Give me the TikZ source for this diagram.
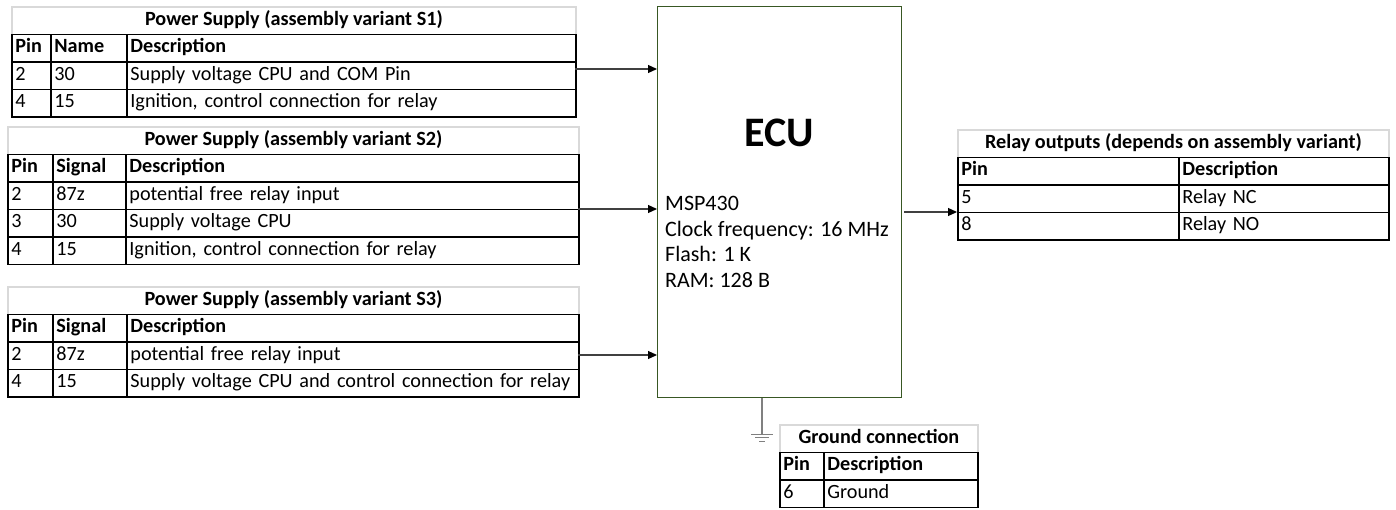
\documentclass[tikz,border=0pt]{standalone}
\usepackage{fontspec}
\setmainfont{Carlito}
\usetikzlibrary{arrows.meta}

\definecolor{ecugreen}{RGB}{56,87,35}
\definecolor{titlegray}{RGB}{217,217,217}
\definecolor{wiregray}{RGB}{64,64,64}
\definecolor{gndgray}{RGB}{128,128,128}

\begin{document}
\begin{tikzpicture}[x=1pt,y=1pt,yscale=-1,
  cell/.style={draw=black, line width=1.8pt, anchor=north west, minimum height=27.5pt, inner xsep=3.5pt, inner ysep=0pt, text height=13.5pt, text depth=4pt, align=left, font=\fontsize{20.2}{23}\selectfont},
  headcell/.style={cell, font=\fontsize{20.2}{23}\selectfont\bfseries},
  titlecell/.style={draw=titlegray, line width=1.8pt, anchor=north west, minimum height=27.5pt, inner sep=0pt, text height=13.5pt, text depth=4pt, font=\fontsize{20.2}{23}\selectfont\bfseries},
  wire/.style={draw=wiregray, line width=1.2pt, -{Triangle[length=9pt,width=8pt,color=black]}}]
\useasboundingbox (0,0) rectangle (1396,509);

%Table: Power Supply S1
\node[titlecell, minimum width=564pt] (s1title) at (11,6) {Power Supply (assembly variant S1)};
\node[headcell, text width=32pt] (s1hp) at (11,33.5) {Pin};
\node[headcell, text width=69pt] (s1hn) at (50,33.5) {Name};
\node[headcell, text width=442pt] (s1hd) at (126,33.5) {Description};
\node[cell, text width=32pt] (s1p1) at (11,61) {2};
\node[cell, text width=69pt] (s1n1) at (50,61) {30};
\node[cell, text width=442pt] (s1d1) at (126,61) {Supply voltage CPU and COM Pin};
\node[cell, text width=32pt] (s1p2) at (11,88.5) {4};
\node[cell, text width=69pt] (s1n2) at (50,88.5) {15};
\node[cell, text width=442pt] (s1d2) at (126,88.5) {Ignition, control connection for relay};

%Table: Power Supply S2
\node[titlecell, minimum width=571pt] (s2title) at (7,126) {Power Supply (assembly variant S2)};
\node[headcell, text width=38pt] (s2hp) at (7,153.5) {Pin};
\node[headcell, text width=66pt] (s2hs) at (52,153.5) {Signal};
\node[headcell, text width=446pt] (s2hd) at (125,153.5) {Description};
\node[cell, text width=38pt] (s2p1) at (7,181) {2};
\node[cell, text width=66pt] (s2s1) at (52,181) {87z};
\node[cell, text width=446pt] (s2d1) at (125,181) {potential free relay input};
\node[cell, text width=38pt] (s2p2) at (7,208.5) {3};
\node[cell, text width=66pt] (s2s2) at (52,208.5) {30};
\node[cell, text width=446pt] (s2d2) at (125,208.5) {Supply voltage CPU};
\node[cell, text width=38pt] (s2p3) at (7,236) {4};
\node[cell, text width=66pt] (s2s3) at (52,236) {15};
\node[cell, text width=446pt] (s2d3) at (125,236) {Ignition, control connection for relay};

%Table: Power Supply S3
\node[titlecell, minimum width=571pt] (s3title) at (7,286) {Power Supply (assembly variant S3)};
\node[headcell, text width=38pt] (s3hp) at (7,313.5) {Pin};
\node[headcell, text width=67pt] (s3hs) at (52,313.5) {Signal};
\node[headcell, text width=445pt] (s3hd) at (126,313.5) {Description};
\node[cell, text width=38pt] (s3p1) at (7,341) {2};
\node[cell, text width=67pt] (s3s1) at (52,341) {87z};
\node[cell, text width=445pt] (s3d1) at (126,341) {potential free relay input};
\node[cell, text width=38pt] (s3p2) at (7,368.5) {4};
\node[cell, text width=67pt] (s3s2) at (52,368.5) {15};
\node[cell, text width=445pt] (s3d2) at (126,368.5) {Supply voltage CPU and control connection for relay};

%Shape: ECU block
\node[draw=ecugreen, line width=1.2pt, anchor=north west, minimum width=244pt, minimum height=391pt, inner sep=0pt] (ecu) at (657,6) {};
% Text Node
\node[font=\fontsize{42}{50}\selectfont\bfseries] (ecutitle) at (779,133) {ECU};
% Text Node
\node[anchor=north west, align=left, inner sep=0pt, font=\fontsize{22}{25.7}\selectfont] (ecuinfo) at (665,196) {MSP430\\Clock frequency: 16 MHz\\Flash: 1 K\\RAM: 128 B};

%Table: Relay outputs
\node[titlecell, minimum width=431pt] (rtitle) at (957,129) {Relay outputs (depends on assembly variant)};
\node[headcell, text width=214pt] (rhp) at (957,156.5) {Pin};
\node[headcell, text width=203pt] (rhd) at (1178,156.5) {Description};
\node[cell, text width=214pt] (rp1) at (957,184) {5};
\node[cell, text width=203pt] (rd1) at (1178,184) {Relay NC};
\node[cell, text width=214pt] (rp2) at (957,211.5) {8};
\node[cell, text width=203pt] (rd2) at (1178,211.5) {Relay NO};

%Table: Ground connection
\node[titlecell, minimum width=198pt] (gtitle) at (779,424) {Ground connection};
\node[headcell, text width=37pt] (ghp) at (779,451.5) {Pin};
\node[headcell, text width=147pt] (ghd) at (823,451.5) {Description};
\node[cell, text width=37pt] (gp1) at (779,479) {6};
\node[cell, text width=147pt] (gd1) at (823,479) {Ground};

%Straight Lines: inputs
\coordinate (s1out) at (575,69);
\coordinate (s2out) at (578,209);
\coordinate (s3out) at (578,355);
\draw[wire] (s1out) -- (s1out -| ecu.west);
\draw[wire] (s2out) -- (s2out -| ecu.west);
\draw[wire] (s3out) -- (s3out -| ecu.west);

%Straight Lines: relay output
\coordinate (relout) at (904,212);
\draw[wire] (relout) -- (relout -| rp2.west);

%Ground symbol
\coordinate (gnd) at (762,434);
\draw[gndgray, line width=1.3pt] (ecu.south -| gnd) -- (gnd);
\draw[gndgray, line width=1pt] (gnd) ++(-11,0) -- ++(22,0);
\draw[gndgray, line width=1pt] (gnd) ++(-7,3.5) -- ++(14,0);
\draw[gndgray, line width=1pt] (gnd) ++(-3,7) -- ++(6,0);

\end{tikzpicture}
\end{document}
